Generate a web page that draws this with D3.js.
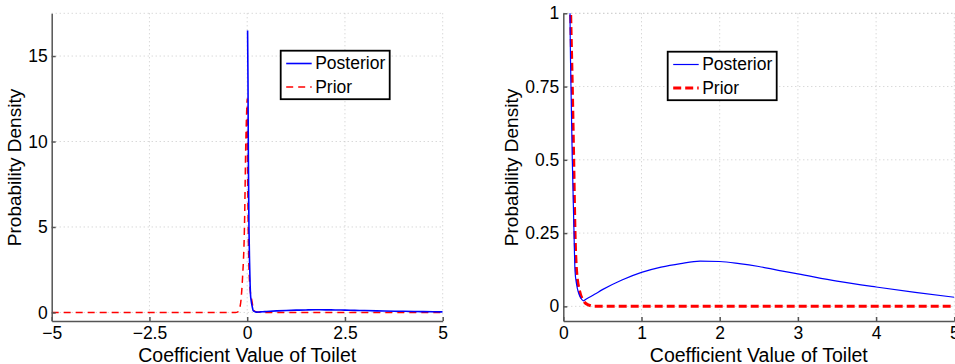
<!DOCTYPE html>
<html>
<head>
<meta charset="utf-8">
<script src="https://cdn.jsdelivr.net/npm/d3@7"></script>
<style>
  html, body { margin: 0; padding: 0; background: #fff; }
  svg { display: block; font-family: "Liberation Sans", Arial, sans-serif; }
  .grid line { stroke: #c8c8c8; stroke-width: 1; stroke-dasharray: 1,3; }
  .axis path, .axis line { stroke: #555; stroke-width: 1.5; }
  .axis text { font-size: 17.5px; fill: #000; }
</style>
</head>
<body>
<div id="chart"></div>
<script>
// density curves (shared by both panels)
const posteriorX = [0.01, 0.02, 0.03, 0.045, 0.06, 0.075, 0.086, 0.098, 0.115, 0.137, 0.15, 0.17, 0.19, 0.22, 0.256, 0.3, 0.4, 0.5, 0.75, 1, 1.25, 1.5, 1.75, 2, 2.25, 2.5, 2.75, 3, 3.5, 4, 4.5, 5];
const posteriorY = [16.5, 13.5, 9, 5, 3, 1.6, 1.0, 0.75, 0.5, 0.25, 0.12, 0.075, 0.05, 0.03, 0.019, 0.026, 0.041, 0.057, 0.09, 0.116, 0.134, 0.146, 0.154, 0.153, 0.146, 0.136, 0.123, 0.111, 0.086, 0.066, 0.048, 0.031];
const priorX = [-5, -0.3, -0.25, -0.2, -0.16, -0.12, -0.07, -0.035, -0.01, 0, 0.005, 0.02, 0.04, 0.06, 0.08, 0.094, 0.115, 0.133, 0.15, 0.17, 0.21, 0.256, 0.32, 0.4, 5];
const priorY = [0, 0, 0.02, 0.2, 0.7, 2, 5, 10, 12, 12.5, 10, 6, 3, 1.8, 1.2, 1.0, 0.75, 0.5, 0.25, 0.12, 0.05, 0.02, 0.005, 0, 0];

const leftXTicks = [-5, -2.5, 0, 2.5, 5];
const leftYTicks = [0, 5, 10, 15];
const rightXTicks = [0, 1, 2, 3, 4, 5];
const rightYTicks = [0, 0.25, 0.5, 0.75, 1];
const seriesNames = ['Posterior', 'Prior'];

const width = 955, height = 364;
const svg = d3.select('#chart').append('svg')
  .attr('width', width).attr('height', height);

const fmt = d => String(d).replace('-', '\u2212');

function panel(opts) {
  const x = d3.scaleLinear().domain(opts.xDomain).range([opts.left, opts.right]);
  const y = d3.scaleLinear().domain(opts.yDomain).range([opts.bottom, opts.top]);
  const g = svg.append('g');

  const clipId = 'clip' + opts.id;
  svg.append('clipPath').attr('id', clipId)
    .append('rect')
    .attr('x', opts.left).attr('y', opts.top)
    .attr('width', opts.right - opts.left).attr('height', opts.bottom - opts.top);

  // dotted grid
  const grid = g.append('g').attr('class', 'grid');
  grid.selectAll('.gx').data(opts.xTicks.slice(1)).enter().append('line')
    .attr('x1', d => x(d)).attr('x2', d => x(d))
    .attr('y1', opts.top).attr('y2', opts.bottom);
  grid.selectAll('.gy').data(opts.yTicks.concat([opts.yDomain[1]])).enter().append('line')
    .attr('x1', opts.left).attr('x2', opts.right)
    .attr('y1', d => y(d)).attr('y2', d => y(d));

  const line = d3.line().curve(d3.curveMonotoneX)
    .x(d => x(d[0])).y(d => y(d[1]));

  const plot = g.append('g').attr('clip-path', `url(#${clipId})`);
  plot.append('path')
    .datum(priorX.map((v, i) => [v, priorY[i]]))
    .attr('d', line)
    .attr('fill', 'none').attr('stroke', '#ff0000')
    .attr('stroke-width', opts.priorWidth)
    .attr('stroke-dasharray', opts.priorDash);
  plot.append('path')
    .datum(posteriorX.map((v, i) => [v, posteriorY[i]]))
    .attr('d', line)
    .attr('fill', 'none').attr('stroke', '#0000ff')
    .attr('stroke-width', opts.postWidth);

  g.append('g').attr('class', 'axis')
    .attr('transform', `translate(0,${opts.bottom})`)
    .call(d3.axisBottom(x).tickValues(opts.xTicks).tickFormat(fmt)
      .tickSizeInner(-4).tickSizeOuter(0).tickPadding(6));
  g.append('g').attr('class', 'axis')
    .attr('transform', `translate(${opts.left},0)`)
    .call(d3.axisLeft(y).tickValues(opts.yTicks).tickFormat(fmt)
      .tickSizeInner(-4).tickSizeOuter(0).tickPadding(4));

  g.append('text')
    .attr('x', (opts.left + opts.right) / 2).attr('y', 361.5)
    .attr('text-anchor', 'middle').attr('font-size', 19.5)
    .text('Coefficient Value of Toilet');
  g.append('text')
    .attr('transform', `translate(${opts.yLabelX},167.5) rotate(-90)`)
    .attr('text-anchor', 'middle').attr('font-size', 19)
    .text('Probability Density');

  // legend
  const lg = g.append('g').attr('transform', `translate(${opts.legendX},${opts.legendY})`);
  lg.append('rect').attr('width', 109).attr('height', 48.5)
    .attr('fill', '#fff').attr('stroke', '#000').attr('stroke-width', 1.8);
  seriesNames.forEach((name, i) => {
    const ly = 12.8 + i * 23.4;
    lg.append('line')
      .attr('x1', 5.5).attr('x2', 31).attr('y1', ly).attr('y2', ly)
      .attr('stroke', i === 0 ? '#0000ff' : '#ff0000')
      .attr('stroke-width', i === 0 ? opts.postWidth : opts.priorWidth)
      .attr('stroke-dasharray', i === 0 ? null : opts.priorDash);
    lg.append('text')
      .attr('x', 34.5).attr('y', ly + 6)
      .attr('font-size', 17.5)
      .text(name);
  });
}

panel({
  id: 'L', left: 51.7, right: 442.7, top: 13.3, bottom: 321,
  xDomain: [-5, 5], yDomain: [-0.5, 17.5],
  xTicks: leftXTicks, yTicks: leftYTicks,
  yLabelX: 21, legendX: 280.7, legendY: 50.7,
  postWidth: 1.6, priorWidth: 1.5, priorDash: '7,5'
});

panel({
  id: 'R', left: 563.3, right: 954.3, top: 13.3, bottom: 321,
  xDomain: [0, 5], yDomain: [-0.05, 1],
  xTicks: rightXTicks, yTicks: rightYTicks,
  yLabelX: 518, legendX: 667.7, legendY: 51.7,
  postWidth: 1.2, priorWidth: 3, priorDash: '8,4'
});
</script>
</body>
</html>
